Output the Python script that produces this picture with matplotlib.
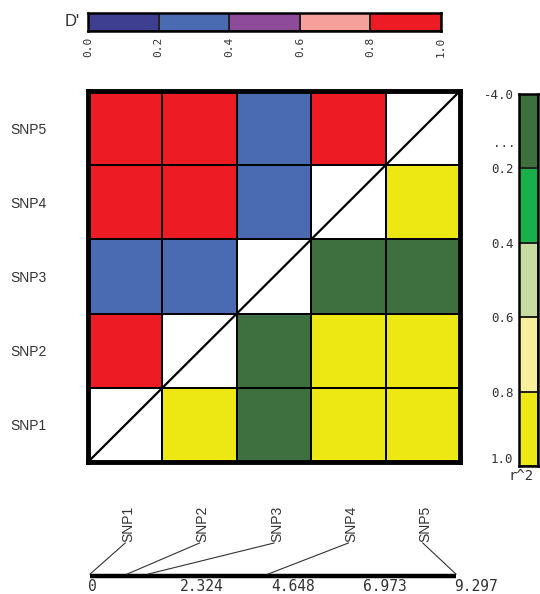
import numpy as np
import matplotlib
matplotlib.use("Agg")
import matplotlib.pyplot as plt
from matplotlib.colors import ListedColormap, BoundaryNorm
from matplotlib.transforms import blended_transform_factory

# ---------------- data ----------------
snps = ["SNP1", "SNP2", "SNP3", "SNP4", "SNP5"]
snp_positions = [0.0, 0.94, 1.47, 4.52, 9.297]
axis_ticks = [0, 2.324, 4.648, 6.973, 9.297]
axis_tick_labels = ["0", "2.324", "4.648", "6.973", "9.297"]

# D' of SNPk versus the lower-numbered SNPs (SNP1, SNP2, ...)
dprime_snp2 = [0.95]
dprime_snp3 = [0.3, 0.3]
dprime_snp4 = [0.95, 0.95, 0.3]
dprime_snp5 = [0.95, 0.95, 0.3, 0.95]

# r^2 of SNPk versus the higher-numbered SNPs
r2_snp1 = [0.9, 0.1, 0.9, 0.9]
r2_snp2 = [0.1, 0.9, 0.9]
r2_snp3 = [0.1, 0.1]
r2_snp4 = [0.9]

dprime_bounds = [0.0, 0.2, 0.4, 0.6, 0.8, 1.0]
dprime_tick_labels = ["0.0", "0.2", "0.4", "0.6", "0.8", "1.0"]
dprime_colors = ["#3f3f92", "#4a6bb2", "#8e4b9a", "#f5a09a", "#ed1c24"]

r2_bounds = [-4.0, 0.2, 0.4, 0.6, 0.8, 1.0]
r2_tick_labels = ["-4.0", "0.2", "0.4", "0.6", "0.8", "1.0"]
r2_colors = ["#3e6f3e", "#17b04b", "#c6dd9f", "#f7ef9c", "#ede713"]

# ---------------- figure ----------------
W, H = 540, 594
fig = plt.figure(figsize=(W / 100, H / 100), dpi=100)
fig.patch.set_facecolor("white")
mono = "DejaVu Sans Mono"
sans = "Liberation Sans"
txtc = "#333333"

def frac(x0, y0, x1, y1):
    return [x0 / W, 1 - y1 / H, (x1 - x0) / W, (y1 - y0) / H]

n = len(snps)
dmat = np.full((n, n), np.nan)
rmat = np.full((n, n), np.nan)
for k, row in enumerate([dprime_snp2, dprime_snp3, dprime_snp4, dprime_snp5], start=1):
    for j, v in enumerate(row):
        dmat[k, j] = v
for k, row in enumerate([r2_snp1, r2_snp2, r2_snp3, r2_snp4]):
    for j, v in enumerate(row):
        rmat[k, k + 1 + j] = v
diag = np.full((n, n), np.nan)
np.fill_diagonal(diag, 0)

dcmap = ListedColormap(dprime_colors)
dnorm = BoundaryNorm(dprime_bounds, dcmap.N)
rcmap = ListedColormap(r2_colors)
rnorm = BoundaryNorm(r2_bounds, rcmap.N)

# ---------------- matrix ----------------
ax = fig.add_axes(frac(88, 91, 460, 462))
edges = np.arange(n + 1)
lw_cell = 1.2
ax.pcolormesh(edges, edges, np.ma.masked_invalid(diag), cmap=ListedColormap(["white"]),
              edgecolors="black", linewidth=lw_cell)
ax.pcolormesh(edges, edges, np.ma.masked_invalid(dmat), cmap=dcmap, norm=dnorm,
              edgecolors="black", linewidth=lw_cell)
ax.pcolormesh(edges, edges, np.ma.masked_invalid(rmat), cmap=rcmap, norm=rnorm,
              edgecolors="black", linewidth=lw_cell)
ax.plot([0, n], [0, n], color="black", lw=1.6, solid_capstyle="butt")
ax.set_xlim(0, n)
ax.set_ylim(0, n)
ax.set_xticks([])
ax.set_yticks(np.arange(n) + 0.5)
ax.set_yticklabels(snps, fontfamily=sans, fontsize=10, color=txtc, ha="left")
ax.tick_params(axis="y", length=0, pad=56)
for s in ax.spines.values():
    s.set_linewidth(3.5)
    s.set_color("black")

# ---------------- D' bar ----------------
axd = fig.add_axes(frac(88, 13, 441, 31))
axd.pcolormesh(dprime_bounds, [0, 1], np.array([[0.1, 0.3, 0.5, 0.7, 0.9]]),
               cmap=dcmap, norm=dnorm, edgecolors="#222222", linewidth=1.2)
axd.set_xlim(0, 1)
axd.set_ylim(0, 1)
axd.set_yticks([])
axd.set_xticks(dprime_bounds)
axd.set_xticklabels(dprime_tick_labels, rotation=90, fontfamily=mono, fontsize=8, color=txtc)
axd.tick_params(axis="x", length=0, pad=4)
for s in axd.spines.values():
    s.set_linewidth(1.8)
axd.text(-0.022, 0.5, "D'", transform=axd.transAxes, ha="right", va="center",
         fontfamily=sans, fontsize=12, color=txtc)

# ---------------- r^2 bar ----------------
axr = fig.add_axes(frac(519, 94, 538, 466))
ypos = np.arange(len(r2_bounds))
axr.pcolormesh([0, 1], ypos, np.arange(len(r2_colors)).reshape(-1, 1) + 0.5,
               cmap=rcmap, norm=BoundaryNorm(np.arange(len(r2_colors) + 1), rcmap.N),
               edgecolors="#222222", linewidth=1.2)
axr.set_xlim(0, 1)
axr.set_ylim(len(r2_colors), 0)
axr.set_xticks([])
axr.set_yticks(ypos)
axr.set_yticklabels(r2_tick_labels, fontfamily=mono, fontsize=9, color=txtc)
axr.tick_params(axis="y", length=0, pad=4)
ticklabs = axr.get_yticklabels()
ticklabs[-1].set_va("bottom")
for s in axr.spines.values():
    s.set_linewidth(1.8)
axr.text(-0.2, 0.66, "...", transform=blended_transform_factory(axr.transAxes, axr.transData),
         ha="right", va="center", fontfamily=mono, fontsize=9, color=txtc)
axr.text(0.1, -0.008, "r^2", transform=axr.transAxes, ha="center", va="top",
         fontfamily=mono, fontsize=10, color=txtc)

# ---------------- physical map ----------------
axm = fig.add_axes(frac(88, 500, 460, 594))
scale = 366 / 9.297
axm.set_xlim(-2 / scale, 9.297 + 4 / scale)
axm.set_ylim(0, 1)
axm.axis("off")
line_y = (594 - 576) / 94
axm.plot([axis_ticks[0], axis_ticks[-1]], [line_y, line_y], color="black", lw=3.2,
         solid_capstyle="butt")
base_y = (594 - 591) / 94
for t, lab in zip(axis_ticks, axis_tick_labels):
    axm.text(t - 0.05, base_y, lab, ha="left", va="baseline", fontfamily=mono,
             fontsize=10.5, color=txtc)

# connectors to SNP labels placed above the matrix columns
bt = blended_transform_factory(ax.transData, axm.transAxes)
top_y = (594 - 543) / 94
for i, (name, pos) in enumerate(zip(snps, snp_positions)):
    xd = i + 0.5
    disp = ax.transData.transform((xd, 0))[0]
    xm = axm.transData.inverted().transform((disp, 0))[0]
    axm.plot([pos, xm], [line_y + 0.02, top_y], color="#333333", lw=0.8)
    axm.text(xd + 0.04, top_y + 0.01, name, transform=bt, rotation=90, ha="center",
             va="bottom", fontfamily=sans, fontsize=10, color=txtc)

fig.savefig("out.png", dpi=100, facecolor="white")
